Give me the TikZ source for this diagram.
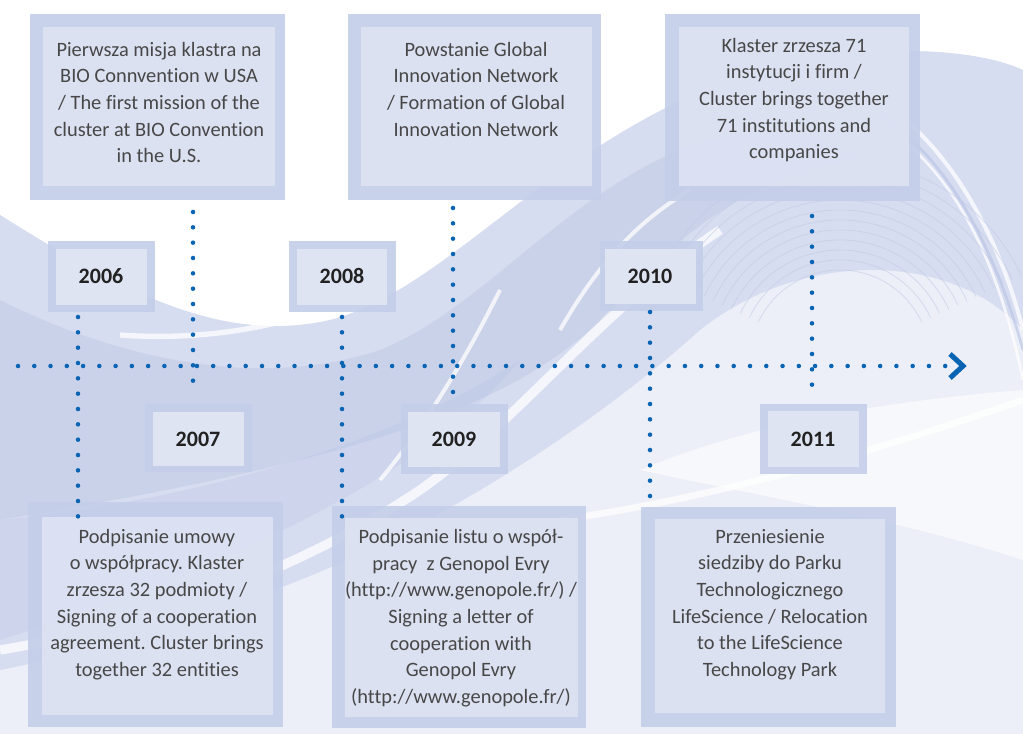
\documentclass[tikz,border=0pt]{standalone}
\usepackage{fontspec}
\setmainfont{Carlito}[RawFeature={-liga}]
\usetikzlibrary{calc}
\definecolor{dotblue}{HTML}{0A64B4}
\definecolor{outerc}{HTML}{C4CEE9}
\definecolor{innerc}{HTML}{DEE3F3}
\definecolor{yinner}{HTML}{E1E6F4}
\definecolor{bgbase}{HTML}{ECEFF7}
\definecolor{wave1}{HTML}{D7DDF0}
\definecolor{wave2}{HTML}{B7C2E3}
\definecolor{arcc}{HTML}{BFC8E4}
\definecolor{txt}{HTML}{474747}
\definecolor{ytxt}{HTML}{222222}
\tikzset{
  outerframe/.style={fill=outerc, opacity=0.9},
  innerpanel/.style={fill=innerc, opacity=0.92},
  yearinner/.style={fill=yinner, opacity=0.95},
  bodytext/.style={text=txt, align=center, inner sep=0pt, font=\fontsize{15.3}{20}\selectfont},
  yeartext/.style={text=ytxt, inner sep=0pt, font=\bfseries\fontsize{16.5}{20}\selectfont},
  vdots/.style={draw=dotblue, line width=3.4pt, line cap=round, dash pattern=on 0pt off 11.5pt},
  hdots/.style={draw=dotblue, line width=3.4pt, line cap=round, dash pattern=on 0pt off 12.2pt},
  chevron/.style={draw=dotblue, line width=3.8pt, miter limit=10},
  whitestreak/.style={draw=white, opacity=0.75},
  arcline/.style={draw=arcc, opacity=0.55, line width=0.6pt}
}
\frenchspacing
\begin{document}
\begin{tikzpicture}[x=0.75pt,y=-0.75pt]
\useasboundingbox (0,0) rectangle (1023,734);
% ---------- background ----------
\fill[bgbase] (0,0) rectangle (1023,734);
\fill[white] (0,0) -- (0,215) .. controls (120,290) and (220,345) .. (330,320)
  .. controls (450,290) and (560,130) .. (760,70) .. controls (880,40) and (980,50) .. (1023,70)
  -- (1023,0) -- cycle;
\fill[wave1] (0,215) .. controls (120,290) and (220,345) .. (330,320)
  .. controls (450,290) and (560,130) .. (760,70) .. controls (880,40) and (980,50) .. (1023,70)
  -- (1023,330) .. controls (950,250) and (800,250) .. (700,330)
  .. controls (600,420) and (450,520) .. (300,580) .. controls (200,620) and (100,650) .. (0,670) -- cycle;
\fill[wave2, opacity=0.4] (0,300) .. controls (120,360) and (260,390) .. (380,350)
  .. controls (480,310) and (560,200) .. (680,150) .. controls (760,120) and (820,130) .. (860,160)
  .. controls (760,170) and (680,230) .. (600,320) .. controls (500,420) and (300,470) .. (0,520) -- cycle;
\fill[wave2, opacity=0.3] (0,520) .. controls (200,500) and (400,440) .. (520,360)
  .. controls (430,470) and (250,560) .. (0,640) -- cycle;
\fill[white, opacity=0.6] (640,470) .. controls (760,420) and (900,400) .. (1023,390)
  -- (1023,560) .. controls (900,520) and (780,500) .. (640,470) -- cycle;
\draw[whitestreak, line width=7pt] (0,650) .. controls (150,625) and (300,570) .. (420,490)
  .. controls (520,420) and (600,310) .. (720,230);
\draw[whitestreak, line width=4pt] (120,335) .. controls (260,345) and (380,300) .. (470,230)
  .. controls (540,180) and (600,120) .. (700,90);
\draw[whitestreak, line width=3pt] (380,480) .. controls (430,420) and (470,350) .. (500,290);
\draw[whitestreak, line width=3pt] (560,330) .. controls (600,260) and (640,220) .. (690,190);
\draw[whitestreak, line width=5pt] (560,520) .. controls (700,500) and (850,460) .. (1023,400);
\draw[whitestreak, line width=3pt] (870,95) .. controls (950,140) and (1000,240) .. (1023,330);
\draw[draw=wave2, opacity=0.6, line width=2pt] (880,115) .. controls (950,160) and (995,250) .. (1023,350);
\draw[whitestreak, line width=2pt] (890,130) .. controls (960,180) and (1000,270) .. (1023,380);
\foreach \r in {90,100,...,200} {
  \draw[arcline] (840,360) ++(205:\r) arc[start angle=205, end angle=335, radius=\r];
}
% ---------- event boxes (top) ----------
\fill[outerframe] (30,14) rectangle (285,200);
\fill[innerpanel] (43,27) rectangle (275,186);
\node[bodytext] (t1) at (159,102.5) {Pierwsza misja klastra na\\BIO Connvention w USA\\/ The first mission of the\\cluster at BIO Convention\\in the U.S.};
\fill[outerframe] (348,14) rectangle (601,200);
\fill[innerpanel] (361,27) rectangle (592,186);
\node[bodytext] (t2) at (476,89) {Powstanie Global\\Innovation Network\\/ Formation of Global\\Innovation Network};
\fill[outerframe] (665,14) rectangle (920,201);
\fill[innerpanel] (679,27) rectangle (909,186);
\node[bodytext] (t3) at (794,100) {Klaster zrzesza 71\\instytucji i firm /\\Cluster brings together\\71 institutions and\\companies};
% ---------- event boxes (bottom) ----------
\fill[outerframe] (28,502) rectangle (283,727);
\fill[innerpanel] (42,517) rectangle (273,715);
\node[bodytext] (b1) at (157,604.5) {Podpisanie umowy\\o współpracy. Klaster\\zrzesza 32 podmioty /\\Signing of a cooperation\\agreement. Cluster brings\\together 32 entities};
\fill[outerframe] (332,506) rectangle (586,728);
\fill[innerpanel] (345,518) rectangle (578,717);
\node[bodytext] (b2) at (461,618) {Podpisanie listu o współ-\\pracy\ \ z Genopol Evry\\(http://www.genopole.fr/) /\\Signing a letter of\\cooperation with\\Genopol Evry\\(http://www.genopole.fr/)};
\fill[outerframe] (641,507) rectangle (896,727);
\fill[innerpanel] (655,519) rectangle (885,713);
\node[bodytext] (b3) at (770,604.5) {Przeniesienie\\siedziby do Parku\\Technologicznego\\LifeScience / Relocation\\to the LifeScience\\Technology Park};
% ---------- year boxes ----------
\fill[outerframe] (48,241) rectangle (155,312);
\fill[yearinner] (56,249) rectangle (147,305);
\node[yeartext] (y06) at (101,276) {2006};
\fill[outerframe] (289,241) rectangle (396,312);
\fill[yearinner] (297,249) rectangle (387,305);
\node[yeartext] (y08) at (342,276) {2008};
\fill[outerframe] (600,241) rectangle (703,311);
\fill[yearinner] (605,249) rectangle (696,304);
\node[yeartext] (y10) at (650,276) {2010};
\fill[outerframe] (145,404) rectangle (252,472);
\fill[yearinner] (153,412) rectangle (244,466);
\node[yeartext] (y07) at (198,439) {2007};
\fill[outerframe] (401,404) rectangle (508,474);
\fill[yearinner] (408,412) rectangle (500,467);
\node[yeartext] (y09) at (454,439) {2009};
\fill[outerframe] (760,404) rectangle (867,474);
\fill[yearinner] (768,411) rectangle (859,467);
\node[yeartext] (y11) at (813,439) {2011};
% ---------- connectors ----------
\coordinate (v06a) at (78,317);  \coordinate (v06b) at (78,517);
\coordinate (v07a) at (193,212); \coordinate (v07b) at (193,395);
\coordinate (v08a) at (342,317); \coordinate (v08b) at (342,517);
\coordinate (v09a) at (453,208); \coordinate (v09b) at (453,394);
\coordinate (v10a) at (650,312); \coordinate (v10b) at (650,504);
\coordinate (v11a) at (812,216); \coordinate (v11b) at (812,399);
\coordinate (axL) at (18,366);   \coordinate (axR) at (947.5,366);
\coordinate (chtip) at (963,366);
\draw[vdots] (v06a) -- (v06b);
\draw[vdots] (v07a) -- (v07b);
\draw[vdots] (v08a) -- (v08b);
\draw[vdots] (v09a) -- (v09b);
\draw[vdots] (v10a) -- (v10b);
\draw[vdots] (v11a) -- (v11b);
\draw[hdots] (axL) -- (axR);
\draw[chevron] ([shift={(-13,-12)}]chtip) -- (chtip) -- ([shift={(-13,12)}]chtip);
\end{tikzpicture}
\end{document}
